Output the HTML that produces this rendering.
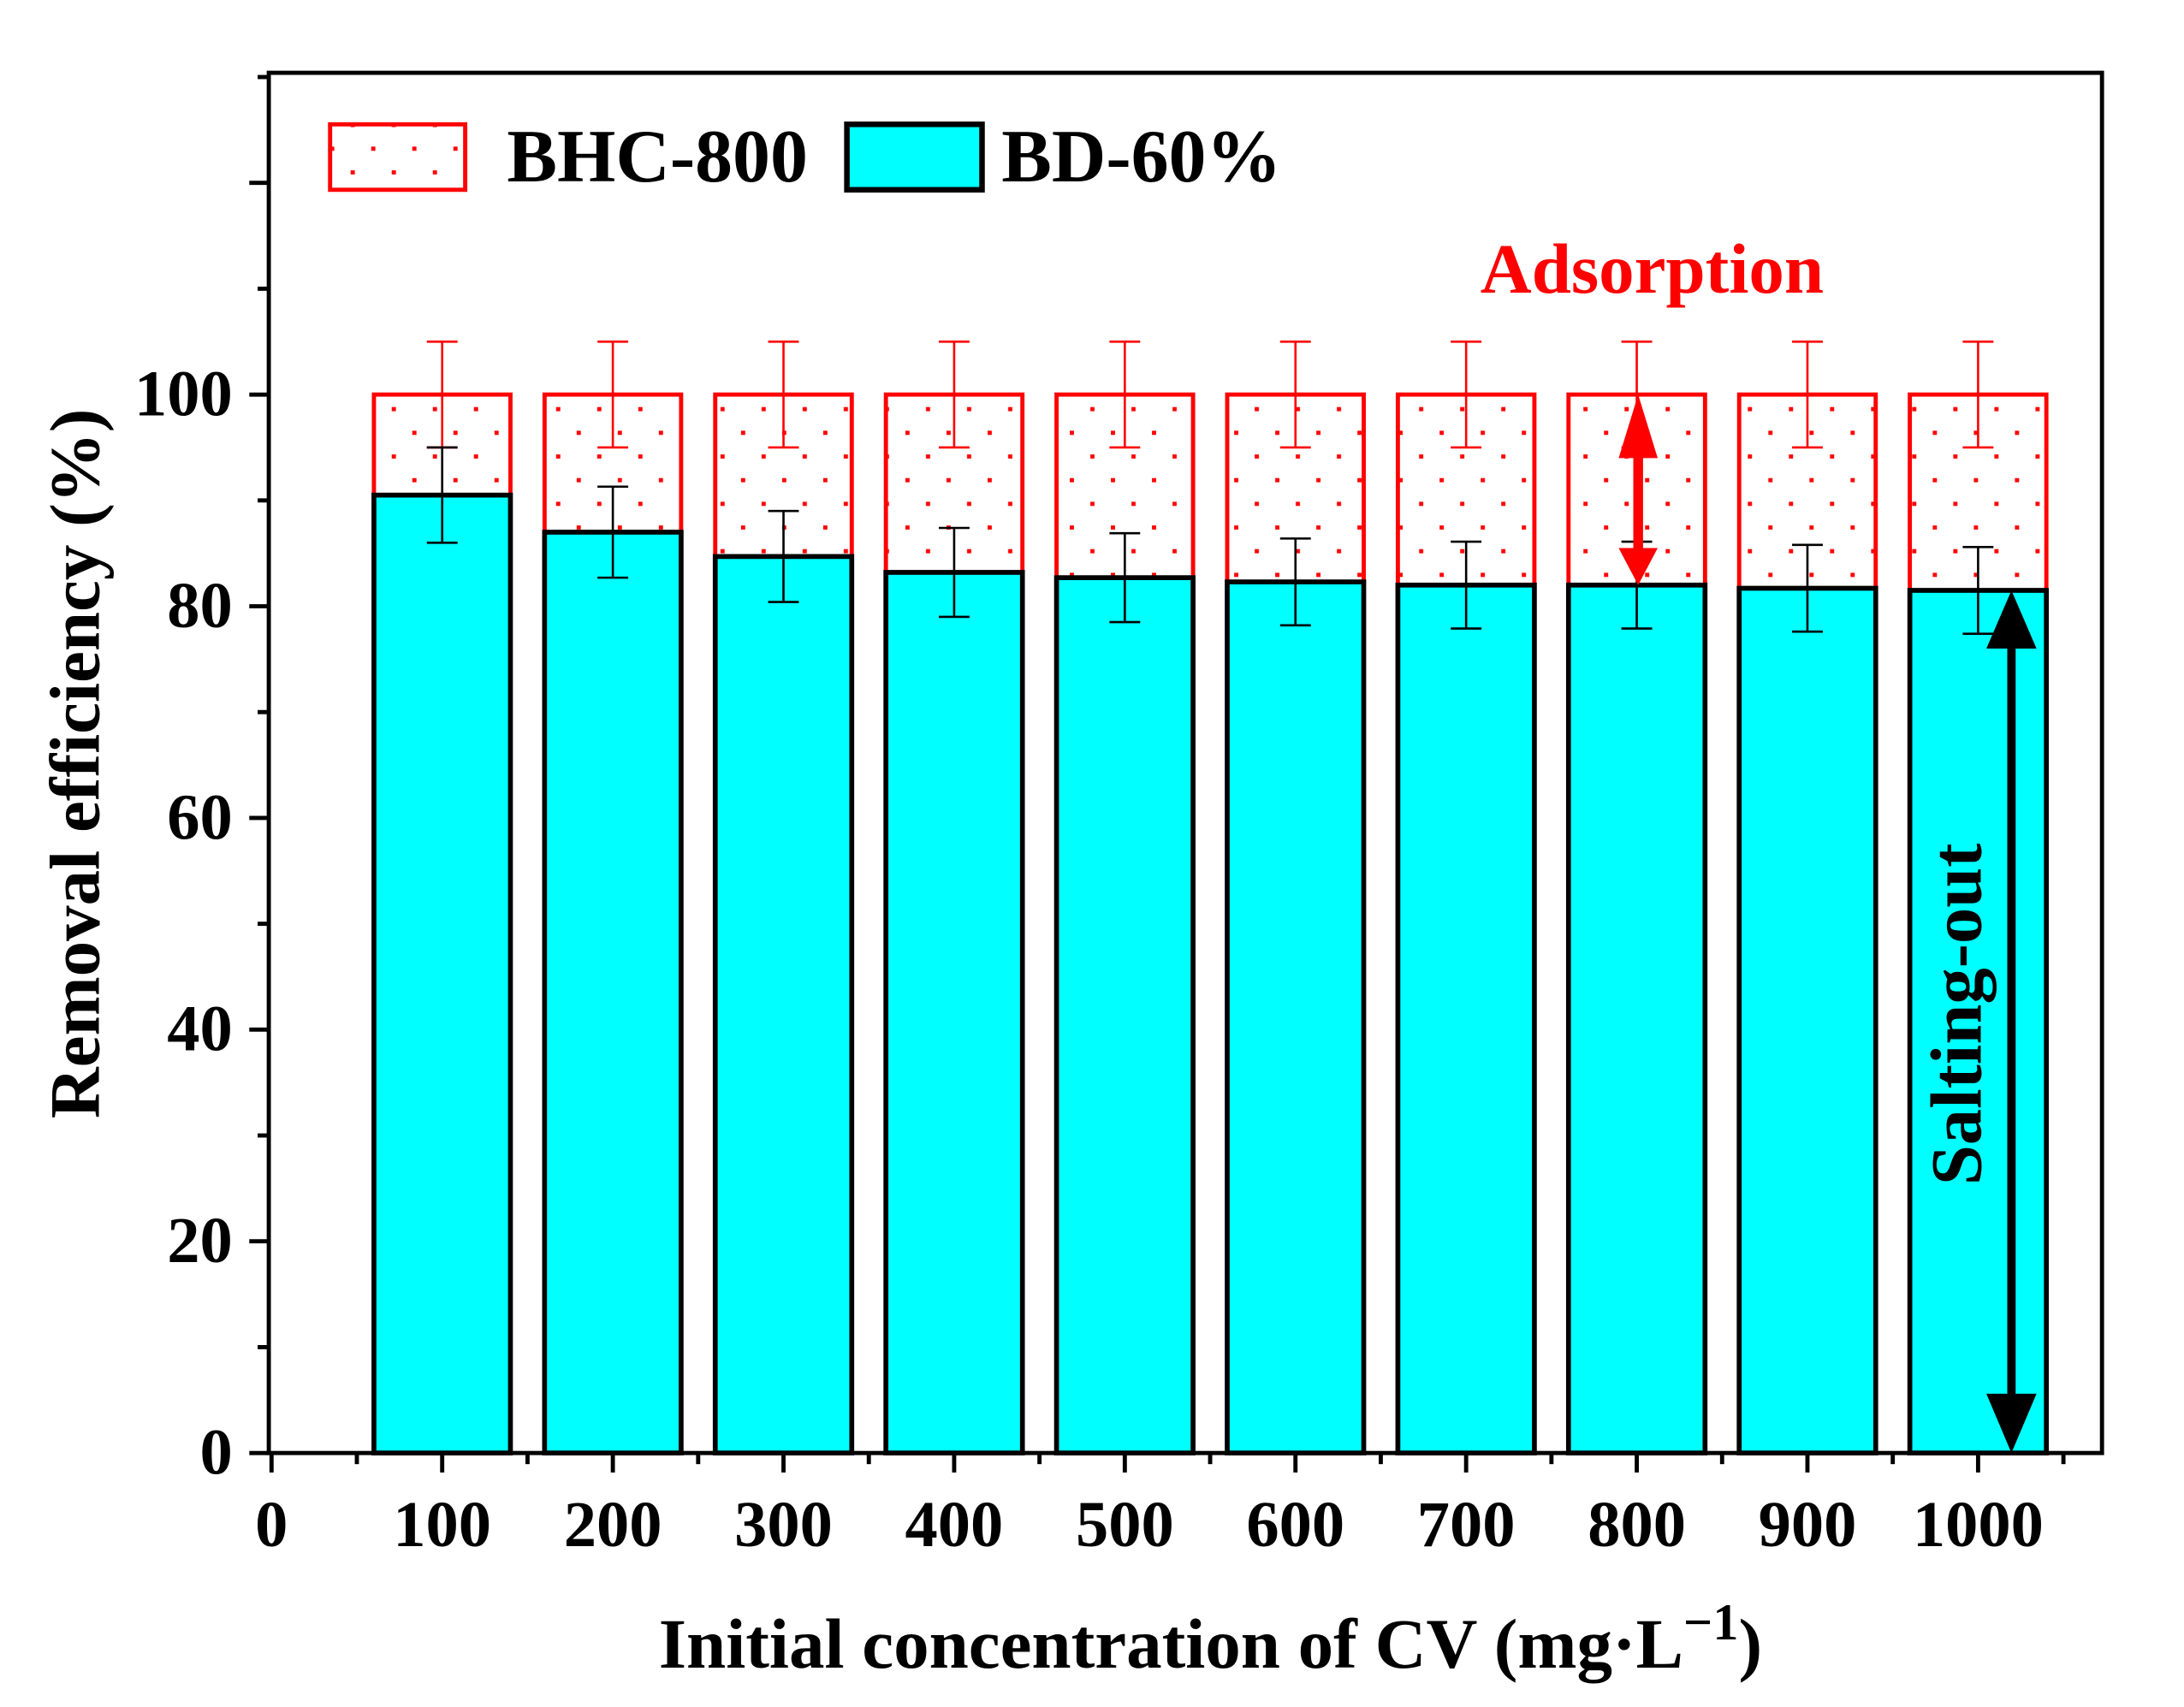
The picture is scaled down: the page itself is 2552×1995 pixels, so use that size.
<!DOCTYPE html>
<html><head><meta charset="utf-8"><style>
html,body{margin:0;padding:0;background:#fff}
svg{display:block}
text{font-family:"Liberation Serif",serif;font-weight:bold}
</style></head><body>
<svg id="chart" width="2552" height="1995" viewBox="0 0 1560 1219.5" xmlns="http://www.w3.org/2000/svg">
<defs>
<pattern id="dots" patternUnits="userSpaceOnUse" width="29.5" height="34" x="0" y="0">
<rect x="0" y="3" width="3" height="3" fill="#ff0000"/>
<rect x="14.75" y="20" width="3" height="3" fill="#ff0000"/>
</pattern>
</defs>
<g id="plot" transform="translate(0.96,0.26) scale(0.995)"></g>
</svg>
<script>
const categories=[100,200,300,400,500,600,700,800,900,1000];
const bhcValues=[100,100,100,100,100,100,100,100,100,100];
const bhcErrors=[5,5,5,5,5,5,5,5,5,5];
const bdValues=[90.5,87,84.7,83.2,82.7,82.3,82,82,81.7,81.5];
const bdErrors=[4.5,4.3,4.3,4.2,4.2,4.1,4.1,4.1,4.1,4.1];
const xTickLabels=["0","100","200","300","400","500","600","700","800","900","1000"];
const yTickLabels=["0","20","40","60","80","100"];

const NS="http://www.w3.org/2000/svg";
const L=192,R=1508,T=52,B=1043;
const xMin=-1.6,xMax=1072.6,yMin=0,yMax=130.4;
function xs(v){return L+(v-xMin)/(xMax-xMin)*(R-L);}
function ys(v){return B-(v-yMin)/(yMax-yMin)*(B-T);}
const g=document.getElementById('plot');
function mk(tag,attrs,parent){const e=document.createElementNS(NS,tag);for(const k in attrs)e.setAttribute(k,attrs[k]);(parent||g).appendChild(e);return e;}
const barW=80;

categories.forEach((c,i)=>{
  const x0=xs(c-barW/2),x1=xs(c+barW/2);
  const top=mk('rect',{x:x0,y:ys(bhcValues[i]),width:x1-x0,height:ys(bdValues[i])-ys(bhcValues[i]),fill:'url(#dots)',stroke:'#ff0000','stroke-width':3});
  
  
  const bot=mk('rect',{x:x0,y:ys(bdValues[i]),width:x1-x0,height:ys(0)-ys(bdValues[i]),fill:'#00ffff',stroke:'#000','stroke-width':3.5});
  
  
});
categories.forEach((c,i)=>{
  const cx=xs(c),cap=xs(c+9)-xs(c);
  const e1=mk('path',{d:`M${cx},${ys(bhcValues[i]+bhcErrors[i])}V${ys(bhcValues[i]-bhcErrors[i])}M${cx-cap},${ys(bhcValues[i]+bhcErrors[i])}h${2*cap}M${cx-cap},${ys(bhcValues[i]-bhcErrors[i])}h${2*cap}`,stroke:'#ff0000','stroke-width':1.6,fill:'none'});
  
  
  const e2=mk('path',{d:`M${cx},${ys(bdValues[i]+bdErrors[i])}V${ys(bdValues[i]-bdErrors[i])}M${cx-cap},${ys(bdValues[i]+bdErrors[i])}h${2*cap}M${cx-cap},${ys(bdValues[i]-bdErrors[i])}h${2*cap}`,stroke:'#000','stroke-width':1.6,fill:'none'});
  
  
});
const fr=mk('rect',{x:L,y:T,width:R-L,height:B-T,fill:'none',stroke:'#000','stroke-width':3});


xTickLabels.forEach((lab,i)=>{
  const v=i*100,x=xs(v);
  mk('line',{x1:x,x2:x,y1:B,y2:B+14,stroke:'#000','stroke-width':3});
  const t=mk('text',{x:x,y:B+67,'text-anchor':'middle','font-size':47});
  t.textContent=lab;
  
  
});
for(let v=50;v<=1050;v+=100){const x=xs(v);mk('line',{x1:x,x2:x,y1:B,y2:B+8,stroke:'#000','stroke-width':3});}
for(let v=0;v<=120;v+=20){const y=ys(v);mk('line',{x1:L,x2:L-14,y1:y,y2:y,stroke:'#000','stroke-width':3});}
for(let v=10;v<=130;v+=20){const y=ys(v);mk('line',{x1:L,x2:L-8,y1:y,y2:y,stroke:'#000','stroke-width':3});}
yTickLabels.forEach((lab,i)=>{
  const t=mk('text',{x:L-26,y:ys(i*20)+15,'text-anchor':'end','font-size':47});
  t.textContent=lab;
  
  
});
const yt=mk('text',{transform:'translate(70,548) rotate(-90)','text-anchor':'middle','font-size':51});
yt.textContent='Removal efficiency (%)';


const xt=mk('text',{x:868,y:1197,'text-anchor':'middle','font-size':51});
xt.innerHTML='Initial concentration of CV (mg·L<tspan dy="-20" font-size="37">−1</tspan><tspan dy="20">)</tspan>';


const lg=mk('g',{});


const l1=mk('rect',{x:236,y:89,width:97,height:47,fill:'url(#dots)',stroke:'#ff0000','stroke-width':3},lg);


const lt1=mk('text',{x:363,y:130,'font-size':54},lg);lt1.textContent='BHC-800';


const l2=mk('rect',{x:607,y:89,width:97,height:47,fill:'#00ffff',stroke:'#000','stroke-width':4},lg);


const lt2=mk('text',{x:718,y:130,'font-size':54},lg);lt2.textContent='BD-60%';


const ad=mk('text',{x:1185,y:210,'text-anchor':'middle','font-size':51,fill:'#ff0000'});ad.textContent='Adsorption';


const xa=xs(800)+1;
const ra=mk('path',{d:`M${xa-3.5},${ys(94)}h7V${ys(85.5)}h-7Z M${xa},${ys(100)} l-14,${ys(94)-ys(100)} h28Z M${xa},${ys(82)} l-14,${ys(85.5)-ys(82)} h28Z`,fill:'#ff0000'});


const xb=1443;
const ba=mk('path',{d:`M${xb-3},${ys(76)}h6V${ys(5.5)}h-6Z M${xb},${ys(81.5)} l-18,${ys(76)-ys(81.5)} h36Z M${xb},${ys(0)} l-18,${ys(5.6)-ys(0)} h36Z`,fill:'#000'});


const so=mk('text',{transform:'translate(1421,728) rotate(-90)','text-anchor':'middle','font-size':52});so.textContent='Salting-out';


</script>
</body></html>
